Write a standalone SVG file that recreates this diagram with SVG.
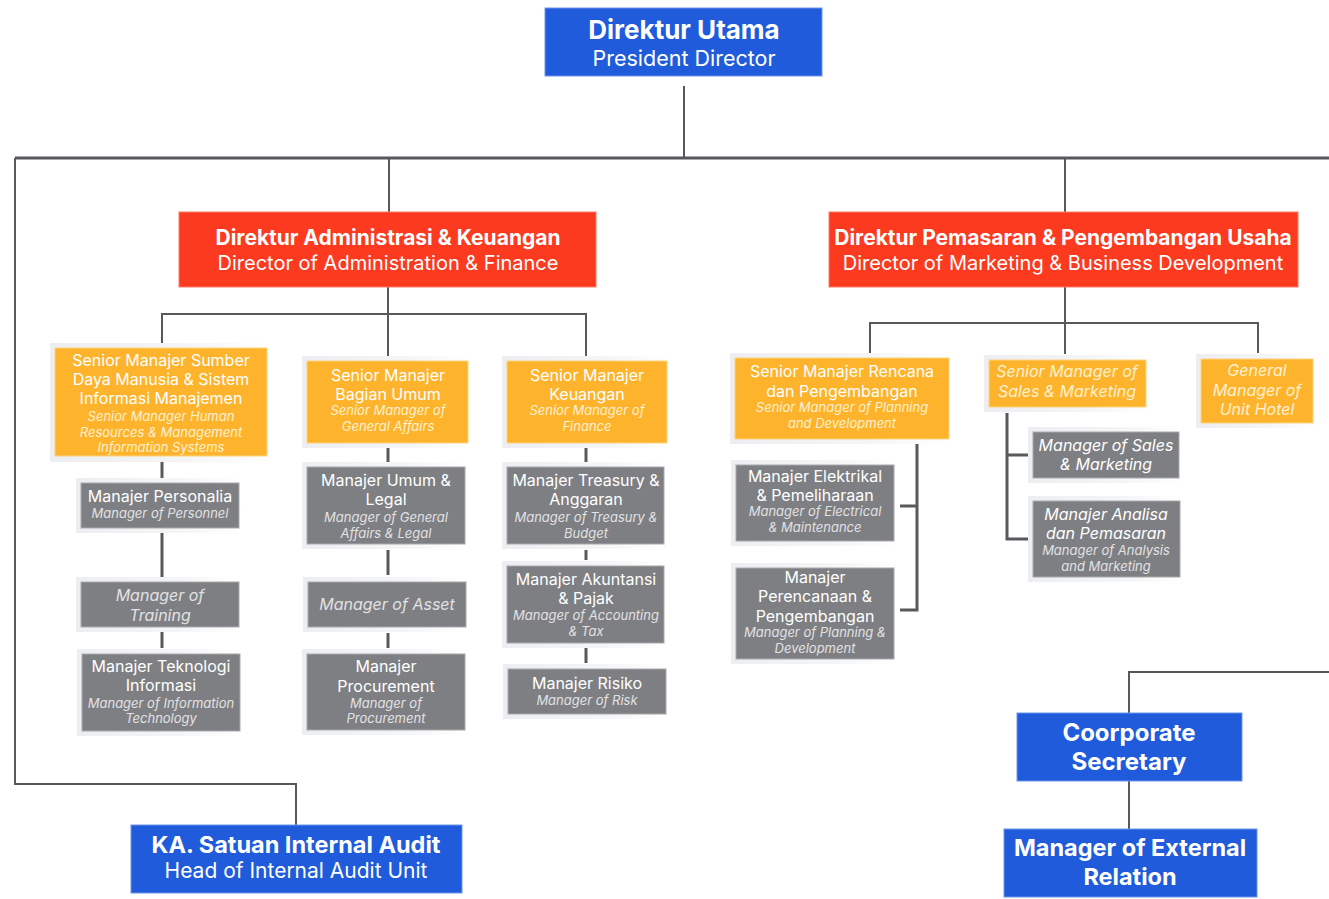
<svg xmlns="http://www.w3.org/2000/svg" width="1329" height="899" viewBox="0 0 1329 899">
<defs>
<linearGradient id="halo" x1="0" y1="0" x2="1" y2="0">
<stop offset="0" stop-color="#eceef1"/>
<stop offset="0.6" stop-color="#f4f5f6"/>
<stop offset="1" stop-color="#ffffff"/>
</linearGradient>
<style>
text{font-family:Inter,"Open Sans","Liberation Sans",sans-serif;text-anchor:middle;fill:#ffffff}
.blue{fill:#1f5bdb;stroke:#6f95ea;stroke-width:1}
.red{fill:#fc3a1f;stroke:#fd7a66;stroke-width:1}
.yel{fill:#fdb42c;stroke:#fdd27e;stroke-width:1}
.gry{fill:#7e7f83;stroke:#a9aaad;stroke-width:1}
.halo{fill:url(#halo)}
.m{font-size:16px}
.i{font-size:13px;font-style:italic}
.iy{fill:#fff1d2}
.ig{fill:#e2e2e4}
.I{font-size:16px;font-style:italic}
.hb{font-size:26px;font-weight:700}
.hr{font-size:21.5px}
.db{font-size:21px;font-weight:700}
.dr{font-size:20px}
.conn{fill:none;stroke:#58595c;stroke-width:2}
.thick{stroke-width:3}
</style>
</defs>
<rect width="1329" height="899" fill="#ffffff"/>

<g id="connectors">
<path class="conn" d="M684 86V158"/>
<path class="conn thick" d="M15 158H1329"/>
<path class="conn" d="M15 158V784H296V825"/>
<path class="conn" d="M389 158V212"/>
<path class="conn" d="M1065 158V212"/>
<path class="conn" d="M388 287V361"/>
<path class="conn" d="M162 343V314H586V357"/>
<path class="conn thick" d="M162 462V478"/>
<path class="conn thick" d="M162 533V577"/>
<path class="conn thick" d="M162 632V648"/>
<path class="conn thick" d="M388 447V462"/>
<path class="conn thick" d="M388 550V575"/>
<path class="conn thick" d="M388 633V648"/>
<path class="conn thick" d="M586 447V462"/>
<path class="conn thick" d="M586 550V560"/>
<path class="conn thick" d="M586 648V663"/>
<path class="conn" d="M1065 287V354"/>
<path class="conn" d="M870 353V323H1258V353"/>
<path class="conn thick" d="M917 444V610H900M917 506H900"/>
<path class="conn thick" d="M1007 413V539H1028M1007 455H1028"/>
<path class="conn" d="M1329 672H1129V713"/>
<path class="conn" d="M1129 781V829"/>
</g>

<g id="n-utama">
<rect class="blue" x="545" y="8" width="277" height="68"/>
<text class="hb" x="684" y="39">Direktur Utama</text>
<text class="hr" x="684" y="66">President Director</text>
</g>

<g id="n-admin">
<rect class="red" x="179" y="212" width="417" height="75"/>
<text class="db" x="388" y="245">Direktur Administrasi &amp; Keuangan</text>
<text class="dr" x="388" y="270">Director of Administration &amp; Finance</text>
</g>

<g id="n-pemasaran">
<rect class="red" x="829" y="212" width="469" height="75"/>
<text class="db" x="1063" y="245">Direktur Pemasaran &amp; Pengembangan Usaha</text>
<text class="dr" x="1063" y="270">Director of Marketing &amp; Business Development</text>
</g>

<g id="n-sdm">
<rect class="halo" x="50" y="343" width="222" height="119"/>
<rect class="yel" x="55" y="348" width="212" height="108"/>
<text class="m" x="161" y="366">Senior Manajer Sumber</text>
<text class="m" x="161" y="385">Daya Manusia &amp; Sistem</text>
<text class="m" x="161" y="404">Informasi Manajemen</text>
<text class="i iy" x="161" y="421">Senior Manager Human</text>
<text class="i iy" x="161" y="437">Resources &amp; Management</text>
<text class="i iy" x="161" y="452">Information Systems</text>
</g>

<g id="n-umum">
<rect class="halo" x="302" y="356" width="171" height="92"/>
<rect class="yel" x="307" y="361" width="161" height="82"/>
<text class="m" x="388" y="381">Senior Manajer</text>
<text class="m" x="388" y="400">Bagian Umum</text>
<text class="i iy" x="388" y="415">Senior Manager of</text>
<text class="i iy" x="388" y="431">General Affairs</text>
</g>

<g id="n-keuangan">
<rect class="halo" x="502" y="356" width="170" height="92"/>
<rect class="yel" x="507" y="361" width="160" height="82"/>
<text class="m" x="587" y="381">Senior Manajer</text>
<text class="m" x="587" y="400">Keuangan</text>
<text class="i iy" x="587" y="415">Senior Manager of</text>
<text class="i iy" x="587" y="431">Finance</text>
</g>

<g id="n-personalia">
<rect class="halo" x="76" y="478" width="168" height="55"/>
<rect class="gry" x="81" y="483" width="158" height="45"/>
<text class="m" x="160" y="502">Manajer Personalia</text>
<text class="i ig" x="160" y="518">Manager of Personnel</text>
</g>

<g id="n-training">
<rect class="halo" x="76" y="577" width="168" height="55"/>
<rect class="gry" x="81" y="582" width="158" height="45"/>
<text class="I ig" x="160" y="601">Manager of</text>
<text class="I ig" x="160" y="621">Training</text>
</g>

<g id="n-ti">
<rect class="halo" x="77" y="649" width="168" height="87"/>
<rect class="gry" x="82" y="654" width="158" height="77"/>
<text class="m" x="161" y="672">Manajer Teknologi</text>
<text class="m" x="161" y="691">Informasi</text>
<text class="i ig" x="161" y="708">Manager of Information</text>
<text class="i ig" x="161" y="723">Technology</text>
</g>

<g id="n-legal">
<rect class="halo" x="302" y="462" width="168" height="87"/>
<rect class="gry" x="307" y="467" width="158" height="77"/>
<text class="m" x="386" y="486">Manajer Umum &amp;</text>
<text class="m" x="386" y="505">Legal</text>
<text class="i ig" x="386" y="522">Manager of General</text>
<text class="i ig" x="386" y="538">Affairs &amp; Legal</text>
</g>

<g id="n-asset">
<rect class="halo" x="303" y="577" width="168" height="55"/>
<rect class="gry" x="308" y="582" width="158" height="45"/>
<text class="I ig" x="387" y="610">Manager of Asset</text>
</g>

<g id="n-procurement">
<rect class="halo" x="302" y="649" width="168" height="86"/>
<rect class="gry" x="307" y="654" width="158" height="76"/>
<text class="m" x="386" y="672">Manajer</text>
<text class="m" x="386" y="692">Procurement</text>
<text class="i ig" x="386" y="708">Manager of</text>
<text class="i ig" x="386" y="723">Procurement</text>
</g>

<g id="n-treasury">
<rect class="halo" x="502" y="462" width="167" height="87"/>
<rect class="gry" x="507" y="467" width="157" height="77"/>
<text class="m" x="586" y="486">Manajer Treasury &amp;</text>
<text class="m" x="586" y="505">Anggaran</text>
<text class="i ig" x="586" y="522">Manager of Treasury &amp;</text>
<text class="i ig" x="586" y="538">Budget</text>
</g>

<g id="n-akuntansi">
<rect class="halo" x="502" y="561" width="167" height="87"/>
<rect class="gry" x="507" y="566" width="157" height="77"/>
<text class="m" x="586" y="585">Manajer Akuntansi</text>
<text class="m" x="586" y="604">&amp; Pajak</text>
<text class="i ig" x="586" y="620">Manager of Accounting</text>
<text class="i ig" x="586" y="636">&amp; Tax</text>
</g>

<g id="n-risiko">
<rect class="halo" x="503" y="664" width="168" height="55"/>
<rect class="gry" x="508" y="669" width="158" height="45"/>
<text class="m" x="587" y="689">Manajer Risiko</text>
<text class="i ig" x="587" y="705">Manager of Risk</text>
</g>

<g id="n-rencana">
<rect class="halo" x="730" y="353" width="224" height="91"/>
<rect class="yel" x="735" y="358" width="214" height="81"/>
<text class="m" x="842" y="377">Senior Manajer Rencana</text>
<text class="m" x="842" y="397">dan Pengembangan</text>
<text class="i iy" x="842" y="412">Senior Manager of Planning</text>
<text class="i iy" x="842" y="428">and Development</text>
</g>

<g id="n-sales-sm">
<rect class="halo" x="984" y="355" width="167" height="57"/>
<rect class="yel" x="989" y="360" width="157" height="47"/>
<text class="I iy" x="1067" y="377">Senior Manager of</text>
<text class="I iy" x="1067" y="397">Sales &amp; Marketing</text>
</g>

<g id="n-hotel">
<rect class="halo" x="1196" y="354" width="122" height="74"/>
<rect class="yel" x="1201" y="359" width="112" height="64"/>
<text class="I iy" x="1257" y="376">General</text>
<text class="I iy" x="1257" y="396">Manager of</text>
<text class="I iy" x="1257" y="415">Unit Hotel</text>
</g>

<g id="n-elektrikal">
<rect class="halo" x="731" y="460" width="168" height="86"/>
<rect class="gry" x="736" y="465" width="158" height="76"/>
<text class="m" x="815" y="482">Manajer Elektrikal</text>
<text class="m" x="815" y="501">&amp; Pemeliharaan</text>
<text class="i ig" x="815" y="516">Manager of Electrical</text>
<text class="i ig" x="815" y="532">&amp; Maintenance</text>
</g>

<g id="n-perencanaan">
<rect class="halo" x="731" y="563" width="168" height="101"/>
<rect class="gry" x="736" y="568" width="158" height="91"/>
<text class="m" x="815" y="583">Manajer</text>
<text class="m" x="815" y="602">Perencanaan &amp;</text>
<text class="m" x="815" y="622">Pengembangan</text>
<text class="i ig" x="815" y="637">Manager of Planning &amp;</text>
<text class="i ig" x="815" y="653">Development</text>
</g>

<g id="n-sales-m">
<rect class="halo" x="1028" y="427" width="156" height="56"/>
<rect class="gry" x="1033" y="432" width="146" height="46"/>
<text class="I" x="1106" y="451">Manager of Sales</text>
<text class="I" x="1106" y="470">&amp; Marketing</text>
</g>

<g id="n-analisa">
<rect class="halo" x="1028" y="496" width="157" height="86"/>
<rect class="gry" x="1033" y="501" width="147" height="76"/>
<text class="I" x="1106" y="520">Manajer Analisa</text>
<text class="I" x="1106" y="539">dan Pemasaran</text>
<text class="i ig" x="1106" y="555">Manager of Analysis</text>
<text class="i ig" x="1106" y="571">and Marketing</text>
</g>

<g id="n-audit">
<rect class="blue" x="131" y="825" width="331" height="68"/>
<text class="db" x="296" y="853" style="font-size:23.5px">KA. Satuan Internal Audit</text>
<text class="dr" x="296" y="878" style="font-size:21px">Head of Internal Audit Unit</text>
</g>

<g id="n-corsec">
<rect class="blue" x="1017" y="713" width="225" height="68"/>
<text class="db" x="1129" y="741" style="font-size:24px">Coorporate</text>
<text class="db" x="1129" y="770" style="font-size:24px">Secretary</text>
</g>

<g id="n-external">
<rect class="blue" x="1004" y="829" width="253" height="68"/>
<text class="db" x="1130" y="856" style="font-size:23.5px">Manager of External</text>
<text class="db" x="1130" y="885" style="font-size:23.5px">Relation</text>
</g>
</svg>
